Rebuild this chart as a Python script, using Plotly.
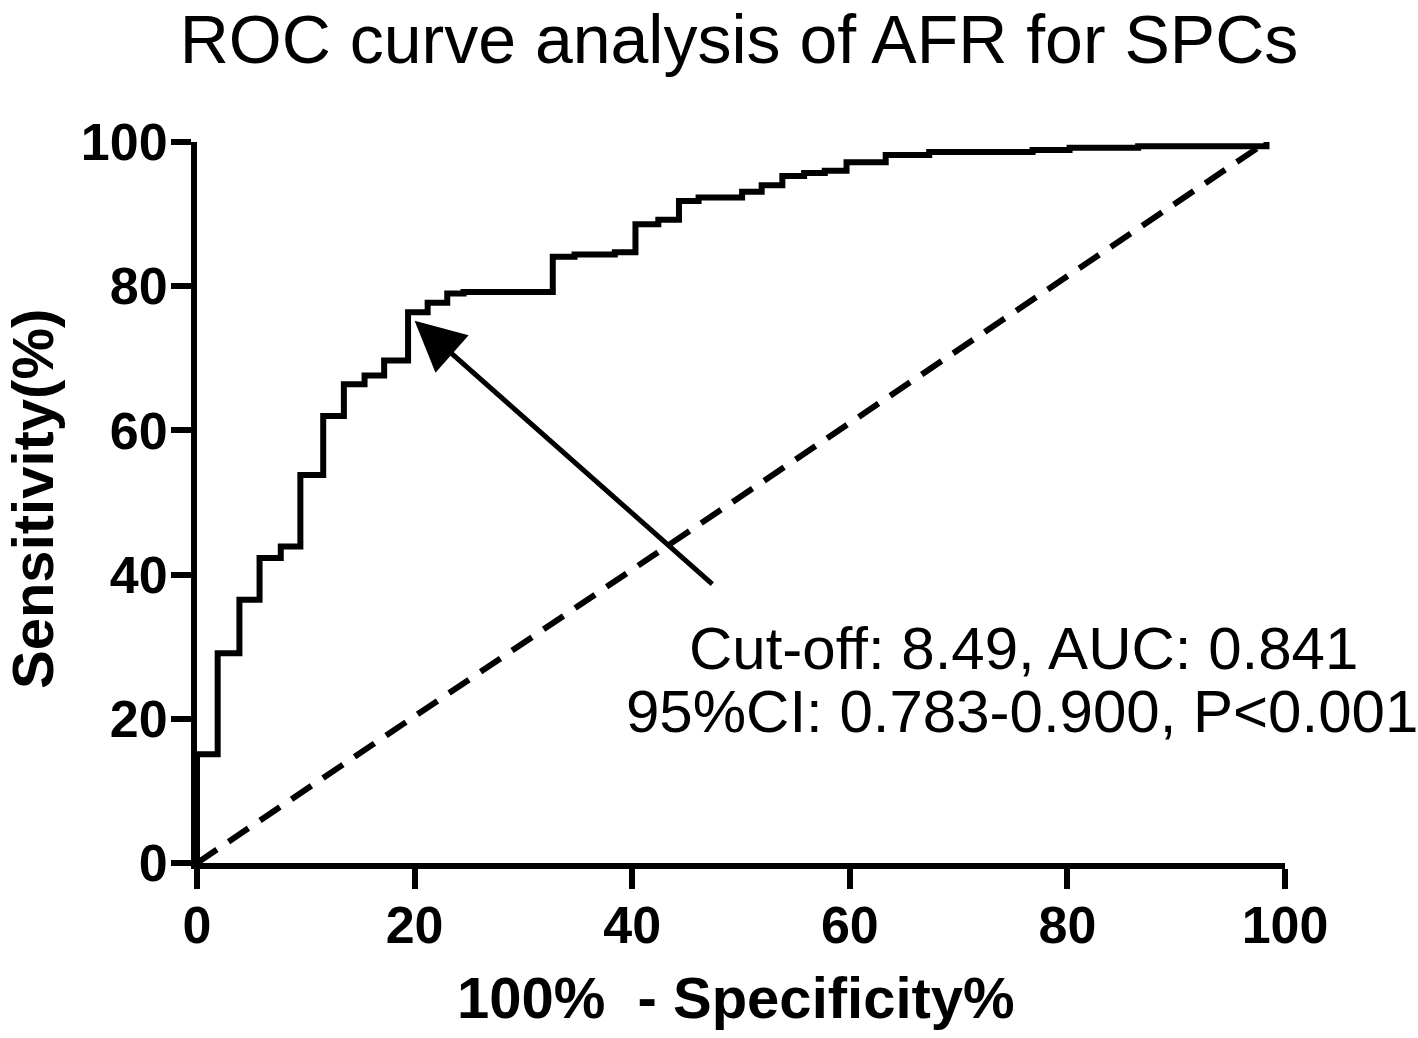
import glob
import plotly.graph_objects as go

# ROC step points (x = 100% - Specificity%, y = Sensitivity %), hv staircase
fpr = [0, 0, 1.9, 3.9, 5.75, 7.7, 9.5, 11.6, 13.5, 15.4, 17.2, 19.4, 21.2, 23.0, 24.5,
       32.7, 34.7, 38.4, 40.3, 42.4, 44.3, 46.1, 50.1, 51.9, 53.8, 55.8, 57.7, 59.7,
       63.3, 67.3, 76.8, 80.2, 86.5, 98.3]
tpr = [0, 15.1, 29.1, 36.5, 42.3, 43.9, 53.8, 62.0, 66.4, 67.6, 69.7, 76.4, 77.7, 79.0, 79.2,
       84.1, 84.4, 84.7, 88.6, 89.2, 91.8, 92.3, 93.1, 94.0, 95.3, 95.7, 96.0, 97.2,
       98.2, 98.6, 98.9, 99.2, 99.4, 100]
ref_x = [0, 98.3]
ref_y = [0, 100]
tick_vals = [0, 20, 40, 60, 80, 100]
tick_text = ["0", "20", "40", "60", "80", "100"]
cutoff_point = (20.0, 75.2)
arrow_tail = (47.5, 38.5)

title_text = "ROC curve analysis of AFR for SPCs"
x_title = "100%\u00a0 - Specificity%"
y_title = "Sensitivity(%)"
note1 = "Cut-off: 8.49, AUC: 0.841"
note2 = "95%CI: 0.783-0.900, P<0.001"

FONT = "Liberation Sans, Arial, sans-serif"
has_narrow = bool(glob.glob("/usr/share/fonts/**/LiberationSansNarrow-Regular*", recursive=True))
NOTE_FONT = "Liberation Sans Narrow, Liberation Sans, Arial" if has_narrow else FONT
NOTE_SIZE = 72 if has_narrow else 60

W, H = 1418, 1038
L, R, T, B = 197, 133, 142, 175
PW, PH = W - L - R, H - T - B

fig = go.Figure()
fig.add_trace(go.Scatter(x=ref_x, y=ref_y, mode="lines",
                         line=dict(color="black", width=6, dash="24px,14px"),
                         showlegend=False, hoverinfo="skip"))
fig.add_trace(go.Scatter(x=fpr, y=tpr, mode="lines",
                         line=dict(color="black", width=6, shape="hv"),
                         showlegend=False))

axis_common = dict(
    showgrid=False, zeroline=False, showline=True, linecolor="black", linewidth=6,
    ticks="outside", ticklen=20, tickwidth=6, tickcolor="black",
    tickvals=tick_vals, ticktext=tick_text,
    tickfont=dict(family=FONT, size=52, color="black", weight="bold"),
)
fig.update_xaxes(range=[0, 100], ticklabelstandoff=-8, **axis_common)
fig.update_yaxes(range=[0, 100], ticklabelstandoff=-7, **axis_common)

fig.update_layout(
    width=W, height=H,
    margin=dict(l=L, r=R, t=T, b=B),
    plot_bgcolor="white", paper_bgcolor="white",
    title=dict(text=title_text, font=dict(family=FONT, size=68, color="black"),
               xref="container", x=739 / W, xanchor="center",
               yref="container", y=1 - 39 / H, yanchor="middle"),
)

fig.add_annotation(x=cutoff_point[0], y=cutoff_point[1], ax=arrow_tail[0], ay=arrow_tail[1],
                   xref="x", yref="y", axref="x", ayref="y", text="",
                   showarrow=True, arrowhead=2, arrowwidth=5, arrowsize=2.0,
                   arrowcolor="black")

def py(pix):
    return (H - B - pix) / PH

def px(pix):
    return (pix - L) / PW

fig.add_annotation(x=px(736), y=py(998), xref="paper", yref="paper",
                   text=x_title, showarrow=False, xanchor="center", yanchor="middle",
                   font=dict(family=FONT, size=58, color="black", weight="bold"))
fig.add_annotation(x=px(32), y=py(499), xref="paper", yref="paper",
                   text=y_title, showarrow=False, textangle=-90,
                   xanchor="center", yanchor="middle",
                   font=dict(family=FONT, size=58, color="black", weight="bold"))
fig.add_annotation(x=px(1023), y=py(648), xref="paper", yref="paper",
                   text=note1, showarrow=False, xanchor="center", yanchor="middle",
                   font=dict(family=NOTE_FONT, size=NOTE_SIZE, color="black"))
fig.add_annotation(x=px(1022), y=py(711), xref="paper", yref="paper",
                   text=note2, showarrow=False, xanchor="center", yanchor="middle",
                   font=dict(family=NOTE_FONT, size=NOTE_SIZE, color="black"))

fig.write_html("out.html", config={"displayModeBar": False},
               post_script="document.body.style.margin='0';")
